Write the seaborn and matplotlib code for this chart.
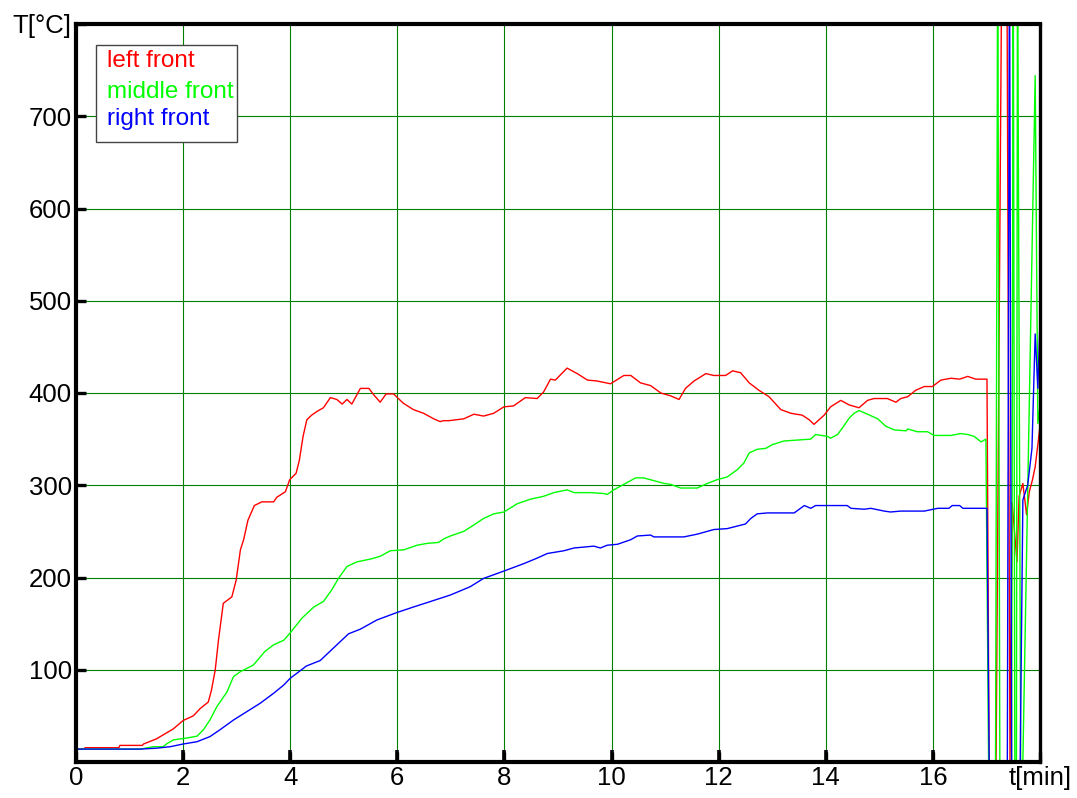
import numpy as np
import pandas as pd
import matplotlib
matplotlib.use("Agg")
import matplotlib.pyplot as plt
import seaborn as sns
from matplotlib.patches import Rectangle

# ---------------- data ----------------
series_names = ["left front", "middle front", "right front"]
series_colors = ["#ff0000", "#00ff00", "#0000ff"]

t_left = [0, 0.15, 0.17, 0.8, 0.82, 1.24, 1.26, 1.5, 1.82, 2.0, 2.19, 2.32, 2.47, 2.53, 2.6,
          2.66, 2.75, 2.91, 2.99, 3.07, 3.13, 3.21, 3.33, 3.47, 3.69, 3.75, 3.91, 3.99, 4.11,
          4.17, 4.24, 4.31, 4.40, 4.5, 4.62, 4.75, 4.87, 4.97, 5.06, 5.15, 5.31, 5.47, 5.56,
          5.68, 5.79, 5.93, 6.11, 6.3, 6.49, 6.68, 6.8, 6.86, 6.96, 7.24, 7.43, 7.61, 7.80,
          7.99, 8.17, 8.39, 8.61, 8.73, 8.86, 8.95, 9.17, 9.36, 9.55, 9.73, 9.98, 10.23, 10.36,
          10.54, 10.73, 10.92, 11.1, 11.26, 11.38, 11.54, 11.76, 11.91, 12.13, 12.26, 12.41,
          12.57, 12.75, 12.94, 13.16, 13.35, 13.56, 13.69, 13.78, 13.97, 14.09, 14.28, 14.44,
          14.62, 14.78, 14.9, 15.15, 15.31, 15.4, 15.53, 15.68, 15.84, 15.99, 16.15, 16.34,
          16.5, 16.65, 16.8, 17.01,
          17.05, 17.18, 17.29, 17.38, 17.44, 17.48, 17.57, 17.61, 17.68, 17.75, 17.80, 17.86,
          17.91, 17.97, 18.02]
T_left = [14, 14, 15.5, 15.5, 18, 18, 19.5, 25, 36, 45, 50, 58, 65, 78, 100,
          132, 172, 179, 197, 230, 241, 262, 278, 282, 282, 287, 293, 306, 313,
          327, 353, 371, 376, 380, 384, 395, 393, 388, 393, 388, 405, 405, 398,
          390, 399, 399, 389, 382, 378, 372, 369, 370, 370, 372, 377, 375, 378,
          385, 386, 395, 394, 401, 415, 414, 427, 421, 414, 413, 410, 419, 419,
          411, 408, 400, 397, 393, 405, 413, 421, 419, 419, 424, 422,
          411, 403, 396, 382, 378, 376, 371, 366, 376, 385, 392, 387,
          384, 392, 394, 394, 390, 394, 396, 403, 407, 407, 414, 416,
          415, 418, 415, 415,
          0, 0, 900, 900, 0, 281, 217, 288, 302, 268, 293, 306,
          320, 349, 375]

t_middle = [0, 1.2, 1.45, 1.63, 1.7, 1.82, 2.07, 2.26, 2.38, 2.5, 2.63, 2.82, 2.94, 3.07,
            3.31, 3.53, 3.69, 3.88, 4.0, 4.22, 4.44, 4.62, 4.78, 4.9, 5.06, 5.25, 5.5, 5.68,
            5.87, 6.12, 6.37, 6.56, 6.77, 6.87, 6.99, 7.24, 7.43, 7.61, 7.80, 7.99, 8.24,
            8.49, 8.73, 8.92, 9.17, 9.3, 9.61, 9.86, 9.92, 10.04, 10.23, 10.45, 10.6, 10.79,
            10.98, 11.1, 11.29, 11.6, 11.79, 11.97, 12.16, 12.35, 12.47, 12.57, 12.72, 12.88,
            13.0, 13.22, 13.47, 13.72, 13.81, 14.03, 14.09, 14.22, 14.31, 14.44, 14.53, 14.62,
            14.78, 14.97, 15.12, 15.28, 15.5, 15.53, 15.71, 15.9, 16.02, 16.34, 16.52, 16.65,
            16.77, 16.9, 16.99,
            17.04, 17.17, 17.21, 17.25, 17.47, 17.50, 17.53, 17.56, 17.58, 17.64, 17.68,
            17.91, 17.96, 18.02]
T_middle = [14, 14, 16.6, 16.6, 20, 24, 26, 28, 35, 45.5, 60, 76, 92.5, 98,
            105, 120, 127, 132, 140, 156, 168, 174, 187, 199, 212, 217, 220, 223,
            229, 230, 235, 237, 238, 242, 245, 250, 257, 264, 269, 271, 280,
            285, 288, 292, 295, 292, 292, 291, 290, 295, 301, 308, 308, 305,
            302, 301, 297, 297, 302, 306, 309, 317, 324, 335, 339, 340,
            344, 348, 349, 350, 355, 353, 351, 355, 362, 373, 378, 381,
            377, 372, 364, 360, 359, 361, 358, 358, 354, 354, 356, 355,
            353, 347, 350,
            0, 0, 900, 0, 0, 900, 0, 0, 900, 0, 0,
            744, 367, 395]

t_right = [0, 1.2, 1.51, 1.76, 2.0, 2.26, 2.5, 2.69, 2.94, 3.19, 3.44, 3.69, 3.88, 4.0, 4.12,
           4.3, 4.56, 4.87, 5.09, 5.31, 5.62, 5.99, 6.3, 6.62, 6.99, 7.36, 7.61, 7.99, 8.36,
           8.61, 8.8, 9.11, 9.3, 9.67, 9.79, 9.92, 10.11, 10.36, 10.48, 10.73, 10.79, 11.35,
           11.6, 11.91, 12.16, 12.5, 12.6, 12.72, 12.91, 13.41, 13.6, 13.72, 13.81, 14.4,
           14.47, 14.72, 14.84, 15.09, 15.21, 15.4, 15.84, 16.09, 16.3, 16.36, 16.5, 16.56,
           17.01,
           17.05, 17.39, 17.43, 17.47, 17.63, 17.68, 17.77, 17.85, 17.91, 17.96, 18.01]
T_right = [14, 14, 15, 16.6, 19.5, 22, 27.5, 35, 45.5, 54.6, 63.7, 74.5, 83.5, 90.8, 96,
           104, 110, 127, 139, 144, 154, 162, 168, 174, 181, 190, 199, 207, 215,
           221, 226, 229, 232, 234, 232, 235, 236, 241, 245, 246, 244, 244,
           247, 252, 253, 258, 264, 269, 270, 270, 278, 275, 278, 278,
           275, 274, 275, 272, 271, 272, 272, 275, 275, 278, 278, 275,
           275,
           0, 0, 900, 0, 0, 284, 300, 340, 464, 405, 497]

x_ticks = [0, 2, 4, 6, 8, 10, 12, 14, 16, 18]
x_tick_labels = ["0", "2", "4", "6", "8", "10", "12", "14", "16", "t[min]"]
y_ticks = [100, 200, 300, 400, 500, 600, 700, 800]
y_tick_labels = ["100", "200", "300", "400", "500", "600", "700", "T[°C]"]

# ---------------- figure ----------------
sns.set_style("white", {"xtick.bottom": True, "ytick.left": True,
                        "xtick.top": False, "ytick.right": False})
plt.rcParams["font.family"] = ["Liberation Sans", "DejaVu Sans"]

df = pd.concat([
    pd.DataFrame({"t": t_left, "T": T_left, "series": series_names[0]}),
    pd.DataFrame({"t": t_middle, "T": T_middle, "series": series_names[1]}),
    pd.DataFrame({"t": t_right, "T": T_right, "series": series_names[2]}),
], ignore_index=True)

W, H = 1077, 798
fig = plt.figure(figsize=(W / 100, H / 100), dpi=100)
ax = fig.add_axes([76 / W, 1 - 762 / H, (1040 - 76) / W, (762 - 24) / H])

sns.lineplot(data=df, x="t", y="T", hue="series", hue_order=series_names,
             palette=dict(zip(series_names, series_colors)), estimator=None,
             sort=False, legend=False, linewidth=1.0, ax=ax)

# inward tick marks on the bottom axis, placed at the x tick positions
ax.plot(x_ticks[1:-1], [0] * len(x_ticks[1:-1]), transform=ax.get_xaxis_transform(),
        linestyle="none", marker=2, markersize=9, markeredgewidth=2.6,
        color="black", clip_on=False, zorder=11)

ax.set_xlim(0, 18)
ax.set_ylim(0, 800)
ax.set_xticks(x_ticks)
ax.set_xticklabels(x_tick_labels)
ax.set_yticks(y_ticks)
ax.set_yticklabels(y_tick_labels)
ax.set_xlabel("")
ax.set_ylabel("")
ax.set_axisbelow(True)
ax.grid(True, color="#008000", linewidth=0.8)
ax.tick_params(axis="both", which="major", direction="in", length=7, width=2.4,
               color="black", labelcolor="black", labelsize=18.5, pad=3,
               bottom=True, left=True, top=False, right=False)

for side, lw in [("left", 3.0), ("bottom", 3.0), ("top", 3.0), ("right", 2.4)]:
    ax.spines[side].set_visible(True)
    ax.spines[side].set_color("black")
    ax.spines[side].set_linewidth(lw)
    ax.spines[side].set_zorder(10)

# legend box (text-only, coloured labels)
ax.add_patch(Rectangle((96 / W, 1 - 142 / H), (237 - 96) / W, (142 - 45) / H,
                       transform=fig.transFigure, facecolor="white",
                       edgecolor="#444444", linewidth=1.0, zorder=8))
for name, col, base in zip(series_names, series_colors, [67, 98, 125]):
    ax.text(107 / W, 1 - base / H, name, color=col, fontsize=17.5,
            transform=fig.transFigure, ha="left", va="baseline", zorder=9)

fig.savefig("out.png", dpi=100)
